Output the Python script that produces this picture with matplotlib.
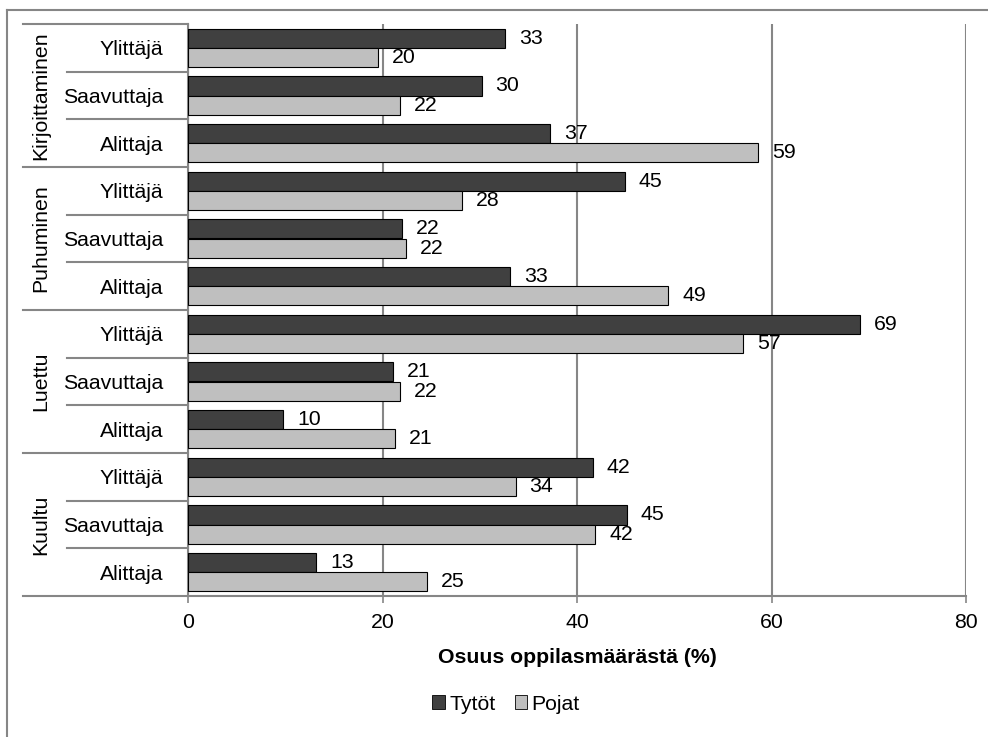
import numpy as np
import matplotlib
matplotlib.use('Agg')
import matplotlib.pyplot as plt
from matplotlib.patches import Patch
from matplotlib.lines import Line2D

plt.rcParams['font.family'] = ['Liberation Sans', 'DejaVu Sans']

# data, top to bottom
groups = ['Kirjoittaminen', 'Puhuminen', 'Luettu', 'Kuultu']
levels = ['Ylittäjä', 'Saavuttaja', 'Alittaja']
tytot = [32.6, 30.2, 37.2,
         44.9, 22.0, 33.1,
         69.1, 21.1, 9.8,
         41.6, 45.1, 13.2]
pojat = [19.5, 21.8, 58.6,
         28.2, 22.4, 49.4,
         57.1, 21.8, 21.3,
         33.7, 41.9, 24.6]

dark = '#404040'
light = '#bfbfbf'
gray = '#868686'
fs = 15.3

W, H = 988, 737
fig = plt.figure(figsize=(W/100, H/100), dpi=100)
ax = fig.add_axes([188/W, 1-596/H, (966-188)/W, (596-24)/H])

n = len(tytot)
pos = np.arange(n) + 0.5
bh = 0.4
ax.barh(pos - bh/2, tytot, height=bh, color=dark, edgecolor='black', linewidth=0.8, zorder=3)
ax.barh(pos + bh/2, pojat, height=bh, color=light, edgecolor='black', linewidth=0.8, zorder=3)

for y, v in zip(pos - bh/2, tytot):
    ax.annotate(f'{v:.0f}', (v, y), xytext=(10, 0), textcoords='offset points',
                va='center', ha='left', fontsize=fs)
for y, v in zip(pos + bh/2, pojat):
    ax.annotate(f'{v:.0f}', (v, y), xytext=(10, 0), textcoords='offset points',
                va='center', ha='left', fontsize=fs)

ax.set_xlim(0, 80)
ax.set_ylim(n, 0)
ax.set_xticks([0, 20, 40, 60, 80])
ax.xaxis.grid(True, color=gray, linewidth=1.5, zorder=0)
ax.tick_params(axis='x', labelsize=fs, color=gray, width=1.2, length=5, pad=7)
ax.set_yticks(pos)
ax.set_yticklabels(levels * len(groups))
ax.tick_params(axis='y', labelsize=fs, length=0, pad=18)
for s in ['top', 'right']:
    ax.spines[s].set_visible(False)
for s in ['left', 'bottom']:
    ax.spines[s].set_color(gray)
    ax.spines[s].set_linewidth(1.5)
ax.set_xlabel('Osuus oppilasmäärästä (%)', fontsize=fs, fontweight='bold', labelpad=12)

# multi-level category axis
tr = ax.get_yaxis_transform()
gx = (23-188)/(966-188)
sx = (67-188)/(966-188)
for k in range(n + 1):
    x0 = gx if k % 3 == 0 else sx
    ax.plot([x0, 0], [k, k], transform=tr, color=gray, lw=1.5, clip_on=False)
for g, name in enumerate(groups):
    ax.text((41-188)/(966-188), g*3 + 1.5, name, transform=tr, rotation=90,
            ha='center', va='center', fontsize=fs)

# legend
handles = [Patch(facecolor=dark, edgecolor='black', linewidth=0.6, label='Tytöt'),
           Patch(facecolor=light, edgecolor='black', linewidth=0.6, label='Pojat')]
fig.legend(handles=handles, loc='center', bbox_to_anchor=(506/W, 1-704/H), ncol=2,
           frameon=False, fontsize=fs, handlelength=0.6, handleheight=0.6,
           handletextpad=0.2, columnspacing=0.9, borderpad=0)

# chart border (cropped)
fig.add_artist(Line2D([7/W, 1], [1-10/H, 1-10/H], color=gray, lw=1.5))
fig.add_artist(Line2D([7/W, 7/W], [0, 1-10/H], color=gray, lw=1.5))

fig.savefig('out.png', dpi=100)
